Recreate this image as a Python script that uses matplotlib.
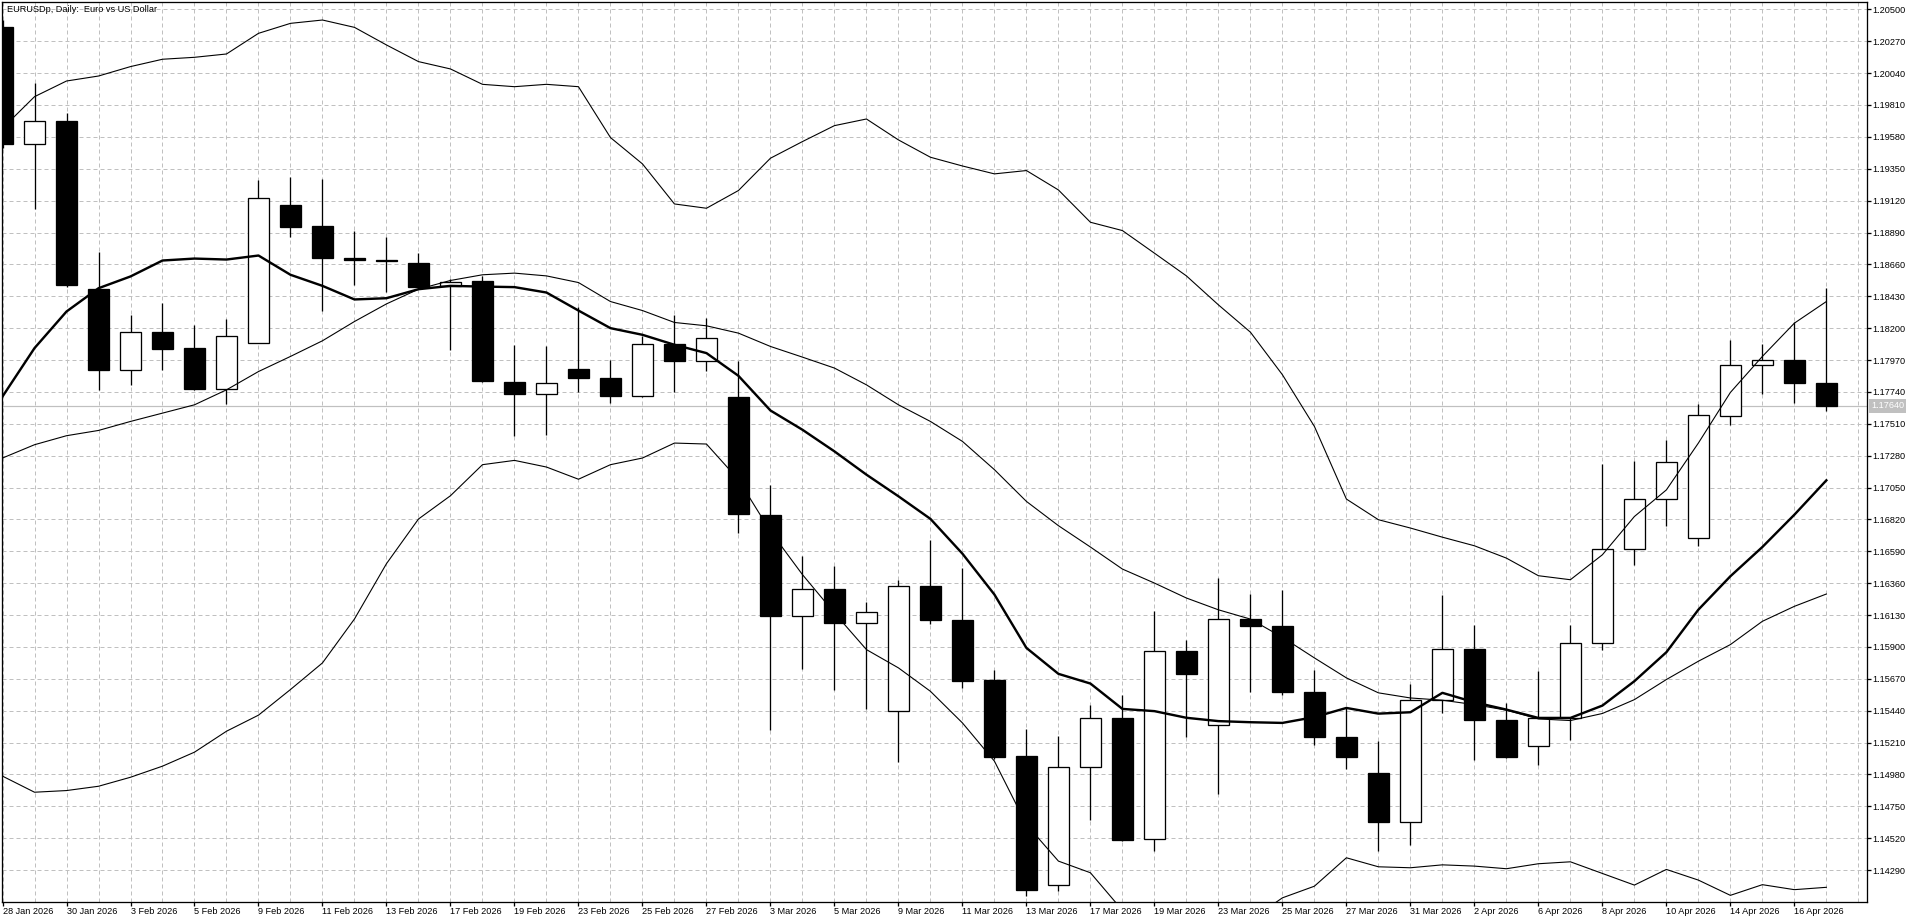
import matplotlib
matplotlib.use("Agg")
import matplotlib.pyplot as plt
from matplotlib.patches import Rectangle

# ---------------- data ----------------
title = "EURUSDp, Daily:  Euro vs US Dollar"

dates = ["28 Jan 2026", "29 Jan 2026", "30 Jan 2026", "2 Feb 2026", "3 Feb 2026", "4 Feb 2026",
         "5 Feb 2026", "6 Feb 2026", "9 Feb 2026", "10 Feb 2026", "11 Feb 2026", "12 Feb 2026",
         "13 Feb 2026", "16 Feb 2026", "17 Feb 2026", "18 Feb 2026", "19 Feb 2026", "20 Feb 2026",
         "23 Feb 2026", "24 Feb 2026", "25 Feb 2026", "26 Feb 2026", "27 Feb 2026", "2 Mar 2026",
         "3 Mar 2026", "4 Mar 2026", "5 Mar 2026", "6 Mar 2026", "9 Mar 2026", "10 Mar 2026",
         "11 Mar 2026", "12 Mar 2026", "13 Mar 2026", "16 Mar 2026", "17 Mar 2026", "18 Mar 2026",
         "19 Mar 2026", "20 Mar 2026", "23 Mar 2026", "24 Mar 2026", "25 Mar 2026", "26 Mar 2026",
         "27 Mar 2026", "30 Mar 2026", "31 Mar 2026", "1 Apr 2026", "2 Apr 2026", "3 Apr 2026",
         "6 Apr 2026", "7 Apr 2026", "8 Apr 2026", "9 Apr 2026", "10 Apr 2026", "13 Apr 2026",
         "14 Apr 2026", "15 Apr 2026", "16 Apr 2026", "17 Apr 2026"]

opens = [1.20375, 1.19531, 1.19695, 1.18486, 1.17897, 1.18171, 1.18056, 1.17763, 1.18094, 1.19089,
         1.18938, 1.18707, 1.18695, 1.18671, 1.18505, 1.18541, 1.17811, 1.17724, 1.17904, 1.17840,
         1.17710, 1.18085, 1.17964, 1.17705, 1.16854, 1.16124, 1.16318, 1.16073, 1.15439, 1.16342,
         1.16095, 1.15658, 1.15110, 1.14182, 1.15035, 1.15388, 1.14511, 1.15869, 1.15335, 1.16102,
         1.16054, 1.15575, 1.15251, 1.14992, 1.14638, 1.15520, 1.15888, 1.15376, 1.15189, 1.15388,
         1.15929, 1.16607, 1.16967, 1.16686, 1.17566, 1.17933, 1.17972, 1.17803]
highs = [1.20420, 1.19971, 1.19755, 1.18748, 1.18296, 1.18385, 1.18224, 1.18265, 1.19270, 1.19294,
         1.19277, 1.18902, 1.18861, 1.18741, 1.18553, 1.18577, 1.18080, 1.18073, 1.18351, 1.17972,
         1.18140, 1.18296, 1.18272, 1.17964, 1.17071, 1.16554, 1.16482, 1.16222, 1.16381, 1.16674,
         1.16467, 1.15737, 1.15309, 1.15256, 1.15480, 1.15556, 1.16162, 1.15952, 1.16398, 1.16284,
         1.16313, 1.15731, 1.15460, 1.15220, 1.15636, 1.16277, 1.16061, 1.15496, 1.15725, 1.16057,
         1.17222, 1.17239, 1.17395, 1.17654, 1.18116, 1.18087, 1.18243, 1.18493]
lows = [1.19500, 1.19058, 1.18500, 1.17751, 1.17791, 1.17900, 1.17755, 1.17652, 1.18090, 1.18861,
        1.18327, 1.18512, 1.18464, 1.18490, 1.18044, 1.17808, 1.17424, 1.17426, 1.17736, 1.17659,
        1.17705, 1.17736, 1.17892, 1.16722, 1.15299, 1.15744, 1.15588, 1.15455, 1.15068, 1.16064,
        1.15605, 1.15089, 1.14102, 1.14138, 1.14655, 1.14500, 1.14427, 1.15251, 1.14840, 1.15573,
        1.15554, 1.15191, 1.15016, 1.14427, 1.14468, 1.15424, 1.15088, 1.15100, 1.15047, 1.15232,
        1.15876, 1.16494, 1.16770, 1.16631, 1.17503, 1.17724, 1.17659, 1.17599]
closes = [1.19529, 1.19695, 1.18508, 1.17897, 1.18171, 1.18053, 1.17758, 1.18142, 1.19137, 1.18933,
          1.18705, 1.18690, 1.18683, 1.18496, 1.18536, 1.17816, 1.17724, 1.17803, 1.17840, 1.17710,
          1.18085, 1.17964, 1.18128, 1.16859, 1.16121, 1.16318, 1.16071, 1.16152, 1.16340, 1.16092,
          1.15653, 1.15105, 1.14150, 1.15035, 1.15388, 1.14506, 1.15869, 1.15705, 1.16102, 1.16049,
          1.15573, 1.15249, 1.15105, 1.14636, 1.15520, 1.15886, 1.15371, 1.15105, 1.15388, 1.15929,
          1.16607, 1.16967, 1.17234, 1.17573, 1.17933, 1.17969, 1.17803, 1.17640]

bb_upper = [1.19642, 1.19870, 1.19983, 1.20019, 1.20087, 1.20140, 1.20154, 1.20178, 1.20327, 1.20399,
            1.20423, 1.20370, 1.20243, 1.20123, 1.20070, 1.19959, 1.19942, 1.19959, 1.19942, 1.19575,
            1.19385, 1.19096, 1.19065, 1.19193, 1.19426, 1.19546, 1.19661, 1.19709, 1.19558, 1.19433,
            1.19370, 1.19313, 1.19337, 1.19197, 1.18964, 1.18904, 1.18741, 1.18577, 1.18368, 1.18171,
            1.17864, 1.17491, 1.16967, 1.16818, 1.16758, 1.16692, 1.16630, 1.16541, 1.16414, 1.16385,
            1.16565, 1.16841, 1.17033, 1.17371, 1.17736, 1.17996, 1.18236, 1.18392]
bb_middle = [1.17263, 1.17359, 1.17424, 1.17462, 1.17527, 1.17587, 1.17647, 1.17755, 1.17887, 1.17996,
             1.18109, 1.18248, 1.18375, 1.18481, 1.18544, 1.18585, 1.18597, 1.18577, 1.18529, 1.18392,
             1.18327, 1.18241, 1.18217, 1.18164, 1.18068, 1.17991, 1.17912, 1.17791, 1.17647, 1.17527,
             1.17383, 1.17179, 1.16950, 1.16775, 1.16621, 1.16462, 1.16361, 1.16253, 1.16168, 1.16101,
             1.15970, 1.15821, 1.15677, 1.15569, 1.15532, 1.15516, 1.15484, 1.15444, 1.15381, 1.15369,
             1.15420, 1.15520, 1.15665, 1.15797, 1.15917, 1.16085, 1.16193, 1.16282]
bb_lower = [1.14968, 1.14852, 1.14864, 1.14895, 1.14960, 1.15040, 1.15141, 1.15292, 1.15408, 1.15593,
            1.15785, 1.16102, 1.16501, 1.16823, 1.16991, 1.17215, 1.17246, 1.17198, 1.17110, 1.17215,
            1.17263, 1.17371, 1.17364, 1.17107, 1.16734, 1.16422, 1.16145, 1.15881, 1.15749, 1.15580,
            1.15352, 1.15076, 1.14619, 1.14355, 1.14271, 1.14000, 1.13860, 1.13790, 1.13810, 1.13930,
            1.14090, 1.14174, 1.14379, 1.14314, 1.14307, 1.14328, 1.14319, 1.14300, 1.14336, 1.14350,
            1.14266, 1.14182, 1.14295, 1.14218, 1.14108, 1.14185, 1.14149, 1.14166]
ma_thick = [1.17707, 1.18056, 1.18320, 1.18488, 1.18573, 1.18688, 1.18702, 1.18695, 1.18724, 1.18585,
            1.18505, 1.18407, 1.18416, 1.18481, 1.18505, 1.18500, 1.18496, 1.18457, 1.18327, 1.18200,
            1.18152, 1.18080, 1.18020, 1.17856, 1.17606, 1.17467, 1.17311, 1.17143, 1.16987, 1.16824,
            1.16573, 1.16278, 1.15893, 1.15706, 1.15636, 1.15453, 1.15437, 1.15389, 1.15365, 1.15357,
            1.15352, 1.15394, 1.15460, 1.15419, 1.15429, 1.15569, 1.15501, 1.15448, 1.15388, 1.15388,
            1.15477, 1.15653, 1.15862, 1.16169, 1.16410, 1.16621, 1.16854, 1.17102]

price_ticks = [1.20500, 1.20270, 1.20040, 1.19810, 1.19580, 1.19350, 1.19120, 1.18890, 1.18660,
               1.18430, 1.18200, 1.17970, 1.17740, 1.17510, 1.17280, 1.17050, 1.16820, 1.16590,
               1.16360, 1.16130, 1.15900, 1.15670, 1.15440, 1.15210, 1.14980, 1.14750, 1.14520,
               1.14290]
last_price = 1.17640

# ---------------- figure ----------------
W, H = 1920, 923
fig = plt.figure(figsize=(W / 100, H / 100), dpi=100, facecolor="white")
L, R, B, T = 2, 1867, 902, 2  # pixel edges of plot area
ax = fig.add_axes([L / W, (H - B) / H, (R - L) / W, (B - T) / H])
ax.set_facecolor("white")

PX = 0.72  # one pixel in points
FONT = "Liberation Sans"
FS = 6.6
GRID = "#c0c0c0"

n = len(dates)
xs = list(range(n))
ax.set_xlim(-0.016, 58.27)
ax.set_ylim(1.14060, 1.20553)

# grid
for k in range(0, 59):
    ax.axvline(k, color=GRID, lw=PX, ls=(0, (4, 3)), zorder=0.5)
for p in price_ticks:
    ax.axhline(p, color=GRID, lw=PX, ls=(0, (4, 3)), zorder=0.5)

# current price line
ax.axhline(last_price, color="#c0c0c0", lw=PX * 1.2, zorder=1)

# candles
bw = 0.66
for i in xs:
    o, h, l, c = opens[i], highs[i], lows[i], closes[i]
    ax.vlines(i, l, h, color="black", lw=PX * 1.3, zorder=2)
    bull = c >= o
    ax.add_patch(Rectangle((i - bw / 2, min(o, c)), bw, abs(c - o),
                           facecolor="white" if bull else "black",
                           edgecolor="black", lw=PX * 1.3, zorder=3))

# indicator lines
ax.plot(xs, bb_upper, color="black", lw=PX * 1.1, zorder=4)
ax.plot(xs, bb_middle, color="black", lw=PX * 1.1, zorder=4)
ax.plot(xs, bb_lower, color="black", lw=PX * 1.1, zorder=4)
ax.plot(xs, ma_thick, color="black", lw=PX * 2.4, zorder=4)

# axes styling
for s in ax.spines.values():
    s.set_color("black")
    s.set_linewidth(PX * 1.3)

ax.yaxis.tick_right()
ax.set_yticks(price_ticks)
ax.set_yticklabels(["%.5f" % p for p in price_ticks], fontfamily=FONT, fontsize=FS)
ax.tick_params(axis="y", direction="out", length=4 * PX, width=PX * 1.3, pad=1 * PX,
               colors="black", left=False, right=True)

tick_idx = xs[::2]
ax.set_xticks(tick_idx)
ax.set_xticklabels([dates[i] for i in tick_idx], fontfamily=FONT, fontsize=FS, ha="left")
ax.tick_params(axis="x", direction="out", length=4 * PX, width=PX * 1.3, pad=0.5,
               colors="black", bottom=True, top=False)

# title
ax.text(5 / (R - L), 1 - 8 / (B - T), title, transform=ax.transAxes, ha="left", va="center",
        fontfamily=FONT, fontsize=FS, color="black", zorder=6)

# current price tag
ax.annotate("%.5f" % last_price, xy=(1, last_price), xycoords=("axes fraction", "data"),
            xytext=(4 * PX, 0), textcoords="offset points", ha="left", va="center",
            fontfamily=FONT, fontsize=FS, color="white",
            bbox=dict(boxstyle="square,pad=0.25", fc="#c0c0c0", ec="none"),
            annotation_clip=False, zorder=7)

fig.savefig("out.png", dpi=100, facecolor="white")
